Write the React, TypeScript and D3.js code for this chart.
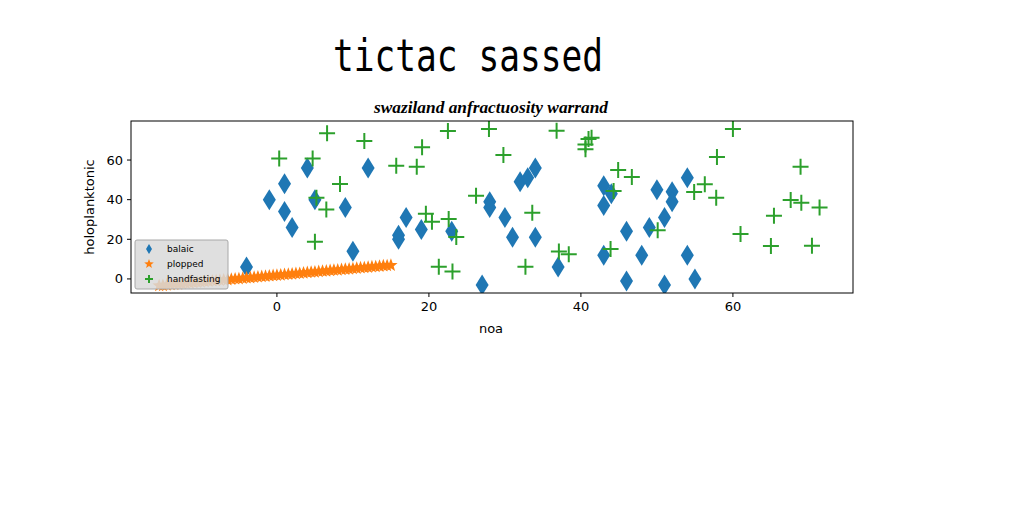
import React from 'react';
import * as d3 from 'd3';

const xTicks = [0, 20, 40, 60];
const yTicks = [0, 20, 40, 60];

const balaicX = [-4, -1, 1, 1, 2, 4, 5, 9, 10, 12, 16, 16, 17, 19, 23, 27, 28, 28, 30, 31, 32, 33, 34, 34, 37, 43, 44, 43, 43, 46, 46, 48, 49, 50, 51, 51, 52, 52, 54, 54, 55];
const balaicY = [6, 40, 48, 34, 26, 56, 40, 36, 14, 56, 22, 20, 31, 25, 24, -3, 39, 36, 31, 21, 49, 51, 56, 21, 6, 47, 43, 37, 12, 24, -1, 12, 26, 45, 31, -3, 44, 39, 51, 12, 0];

const ploppedX = [
  -15.5, -15, -14.5, -14, -13.5, -13, -12.5, -12, -11.5, -11, -10.5, -10, -9.5, -9, -8.5, -8,
  -7.5, -7, -6.5, -6, -5.5, -5, -4.5, -4, -3.5, -3, -2.5, -2, -1.5, -1, -0.5, 0,
  0.5, 1, 1.5, 2, 2.5, 3, 3.5, 4, 4.5, 5, 5.5, 6, 6.5, 7, 7.5, 8,
  8.5, 9, 9.5, 10, 10.5, 11, 11.5, 12, 12.5, 13, 13.5, 14, 14.5, 15,
];
const ploppedY = [
  -3.4, -3.3, -3.1, -2.9, -2.7, -2.6, -2.4, -2.2, -2.1, -1.9, -1.7, -1.6, -1.4, -1.2, -1.0, -0.9,
  -0.7, -0.5, -0.4, -0.2, 0.0, 0.1, 0.3, 0.5, 0.6, 0.8, 1.0, 1.2, 1.3, 1.5, 1.7, 1.8,
  2.0, 2.2, 2.3, 2.5, 2.7, 2.8, 3.0, 3.2, 3.4, 3.5, 3.7, 3.9, 4.0, 4.2, 4.4, 4.5,
  4.7, 4.9, 5.0, 5.2, 5.4, 5.6, 5.7, 5.9, 6.1, 6.2, 6.4, 6.6, 6.7, 6.9,
];

const handX = [0.3, 4.7, 6.6, 11.5, 8.3, 5.2, 6.5, 5.0, 15.7, 18.4, 19.1, 22.5, 27.9, 29.8, 36.8, 40.6, 40.6, 41.0, 41.4, 26.2, 19.6, 20.4, 22.6, 23.6, 21.3, 23.1, 33.6, 32.7, 37.1, 38.4, 44.9, 46.7, 44.3, 43.9, 50.1, 54.9, 56.3, 57.8, 57.9, 60.0, 61.0, 65.0, 65.4, 67.6, 69.0, 68.9, 71.4, 70.4];
const handY = [60.8, 60.8, 73.5, 69.6, 47.9, 41, 35.1, 18.8, 57.1, 56.6, 66.4, 74.6, 75.6, 62.5, 74.8, 67.9, 65.4, 70.6, 71.3, 42.0, 32.9, 28.9, 30.3, 21.2, 6.2, 3.7, 33.4, 6.2, 13.8, 12.4, 55.0, 51.4, 44.4, 15.1, 24.6, 43.9, 47.8, 41.0, 61.5, 75.6, 22.7, 16.6, 31.9, 39.8, 38.5, 56.6, 36.0, 16.8];

const legendLabels = ['balaic', 'plopped', 'handfasting'];
const colors = ['#1f77b4', '#ff7f0e', '#2ca02c'];

const left = 131;
const right = 853;
const top = 121;
const bottom = 293;

const x = d3.scaleLinear().domain([-19.2, 75.8]).range([left, right]);
const y = d3.scaleLinear().domain([-7.1, 79.7]).range([bottom, top]);

const diamond = (w: number, h: number) =>
  `M0,${-h / 2}L${w / 2},0L0,${h / 2}L${-w / 2},0Z`;

const starPath = (r: number) => {
  const pts: [number, number][] = [];
  for (let i = 0; i < 10; i++) {
    const a = (Math.PI / 5) * i - Math.PI / 2;
    const rr = i % 2 === 0 ? r : r * 0.42;
    pts.push([rr * Math.cos(a), rr * Math.sin(a)]);
  }
  return d3.line()(pts) + 'Z';
};

const plusPath = (s: number) => `M${-s},0H${s}M0,${-s}V${s}`;

const font = 'DejaVu Sans, sans-serif';

export default function App() {
  return (
    <svg
      width={1024}
      height={512}
      style={{ position: 'absolute', left: 0, top: 0, background: '#fff' }}
    >
      <text
        x={468}
        y={71}
        textAnchor="middle"
        fontFamily="DejaVu Sans Mono, monospace"
        fontSize={44}
        textLength={270}
        lengthAdjust="spacingAndGlyphs"
      >
        tictac sassed
      </text>
      <text
        x={491}
        y={113}
        textAnchor="middle"
        fontFamily="Liberation Serif, serif"
        fontStyle="italic"
        fontWeight="bold"
        fontSize={17}
        textLength={234}
        lengthAdjust="spacingAndGlyphs"
      >
        swaziland anfractuosity warrand
      </text>

      <defs>
        <clipPath id="plot-clip">
          <rect x={left} y={top} width={right - left} height={bottom - top} />
        </clipPath>
      </defs>

      <g clipPath="url(#plot-clip)">
        {balaicX.map((d, i) => (
          <path
            key={'b' + i}
            d={diamond(13, 21)}
            transform={`translate(${x(d)},${y(balaicY[i])})`}
            fill={colors[0]}
          />
        ))}
        {ploppedX.map((d, i) => (
          <path
            key={'p' + i}
            d={starPath(7)}
            transform={`translate(${x(d)},${y(ploppedY[i])})`}
            fill={colors[1]}
          />
        ))}
        {handX.map((d, i) => (
          <path
            key={'h' + i}
            d={plusPath(8)}
            transform={`translate(${x(d)},${y(handY[i])})`}
            stroke={colors[2]}
            strokeWidth={2}
            fill="none"
          />
        ))}
      </g>

      <rect
        x={left}
        y={top}
        width={right - left}
        height={bottom - top}
        fill="none"
        stroke="#000"
        strokeWidth={1}
      />

      {xTicks.map((t) => (
        <g key={'xt' + t} transform={`translate(${x(t)},${bottom})`}>
          <line y2={4} stroke="#000" />
          <text y={18} textAnchor="middle" fontFamily={font} fontSize={13}>
            {t}
          </text>
        </g>
      ))}
      {yTicks.map((t) => (
        <g key={'yt' + t} transform={`translate(${left},${y(t)})`}>
          <line x2={-4} stroke="#000" />
          <text x={-8} dy="0.35em" textAnchor="end" fontFamily={font} fontSize={13}>
            {t}
          </text>
        </g>
      ))}

      <text x={491} y={333} textAnchor="middle" fontFamily={font} fontSize={13}>
        noa
      </text>
      <text
        transform={`translate(94,${(top + bottom) / 2}) rotate(-90)`}
        textAnchor="middle"
        fontFamily={font}
        fontSize={13}
      >
        holoplanktonic
      </text>

      <g transform="translate(135,240)">
        <rect
          width={93}
          height={49}
          rx={2}
          fill="#d9d9d9"
          fillOpacity={0.85}
          stroke="#a8a8a8"
        />
        {legendLabels.map((l, i) => (
          <g key={l} transform={`translate(0,${9 + i * 15})`}>
            {i === 0 && <path d={diamond(6, 10)} transform="translate(14,0)" fill={colors[0]} />}
            {i === 1 && <path d={starPath(5)} transform="translate(14,0)" fill={colors[1]} />}
            {i === 2 && (
              <path d={plusPath(4)} transform="translate(14,0)" stroke={colors[2]} strokeWidth={2} />
            )}
            <text x={32} dy="0.35em" fontFamily={font} fontSize={9}>
              {l}
            </text>
          </g>
        ))}
      </g>
    </svg>
  );
}
